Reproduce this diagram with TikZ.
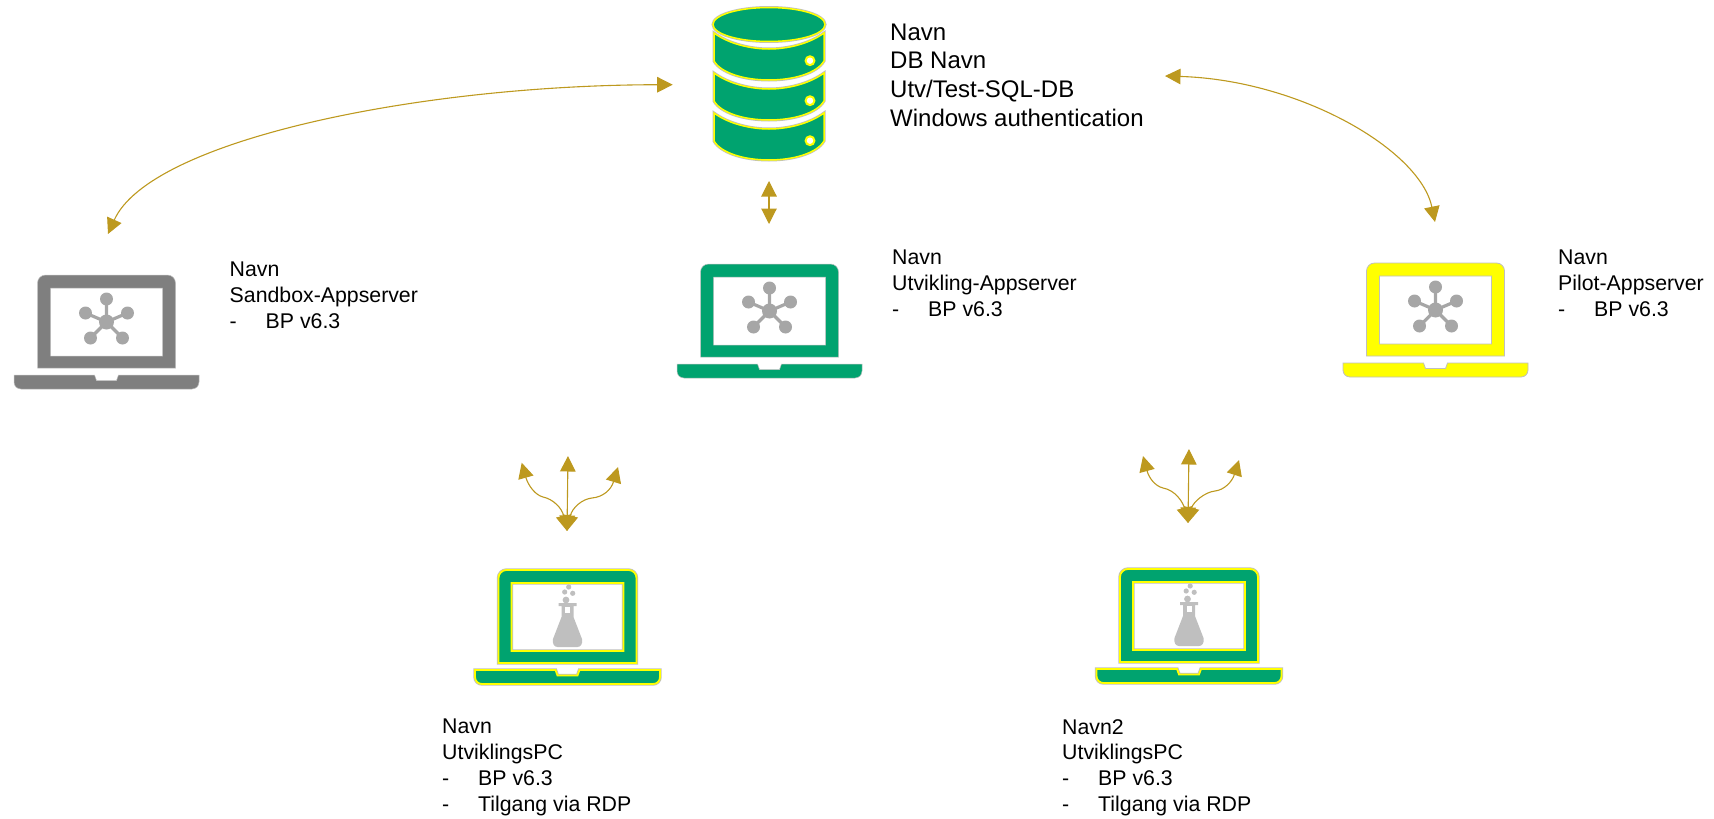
\documentclass[tikz,border=0pt]{standalone}
\usepackage{fontspec}
\setmainfont{Liberation Sans}
\usetikzlibrary{arrows.meta}
\definecolor{gold}{HTML}{BD991F}
\definecolor{pgreen}{HTML}{00A36F}
\definecolor{pgray}{HTML}{7F7F7F}
\definecolor{pyellow}{HTML}{FFFF00}
\definecolor{edgeg}{HTML}{BFBFBF}
\definecolor{icong}{HTML}{A6A6A6}
\definecolor{flaskg}{HTML}{BFBFBF}
\tikzset{
  link/.style={draw=gold,line width=1.1pt,{Triangle[length=15.5pt,width=15.5pt,fill=gold]}-{Triangle[length=15.5pt,width=15.5pt,fill=gold]}},
  lab/.style={anchor=north west,inner sep=0pt,align=left,font=\fontsize{21.3}{25.9}\selectfont},
  dblab/.style={anchor=north west,inner sep=0pt,align=left,font=\fontsize{24}{28.6}\selectfont},
  halo/.style={preaction={draw=edgeg,line width=3pt}},
}
% #1 cx, #2 top, #3 fill, #4 outline, #5 outline width
\newcommand{\laptopbody}[5]{%
  \begin{scope}[shift={(#1,#2)}]
    \path[fill=#3,draw=#4,line width=#5,even odd rule]
      (-69,93) -- (-69,8) .. controls (-69,3.6) and (-65.4,0) .. (-61,0) -- (61,0)
      .. controls (65.4,0) and (69,3.6) .. (69,8) -- (69,93) -- cycle
      (-56,13) -- (56,13) -- (56,81) -- (-56,81) -- cycle;
    \path[fill=#3,draw=#4,line width=#5]
      (-92.5,100) -- (-12,100) -- (-10,105.5) -- (10,105.5) -- (12,100) -- (92.5,100)
      -- (92.5,107) .. controls (92.5,111) and (89.5,114) .. (85.5,114) -- (-85.5,114)
      .. controls (-89.5,114) and (-92.5,111) .. (-92.5,107) -- cycle;
  \end{scope}}
\newcommand{\laptophalo}[2]{%
  \begin{scope}[shift={(#1,#2)}]
    \path[draw=edgeg,line width=3.4pt]
      (-69,93) -- (-69,8) .. controls (-69,3.6) and (-65.4,0) .. (-61,0) -- (61,0)
      .. controls (65.4,0) and (69,3.6) .. (69,8) -- (69,93) -- cycle
      (-56,13) -- (56,13) -- (56,81) -- (-56,81) -- cycle;
    \path[draw=edgeg,line width=3.4pt]
      (-92.5,100) -- (-12,100) -- (-10,105.5) -- (10,105.5) -- (12,100) -- (92.5,100)
      -- (92.5,107) .. controls (92.5,111) and (89.5,114) .. (85.5,114) -- (-85.5,114)
      .. controls (-89.5,114) and (-92.5,111) .. (-92.5,107) -- cycle;
  \end{scope}}
\newcommand{\neticon}[2]{%
  \begin{scope}[shift={(#1,#2)}]
    \draw[icong,line width=3.2pt] (0,47) -- (0,24) (0,47) -- (-21,38) (0,47) -- (21,38) (0,47) -- (-16,63) (0,47) -- (16,63);
    \fill[icong] (0,47) circle[radius=7.5] (0,24) circle[radius=6.5] (-21,38) circle[radius=6.5]
      (21,38) circle[radius=6.5] (-16,63) circle[radius=6.5] (16,63) circle[radius=6.5];
  \end{scope}}
\newcommand{\flaskicon}[2]{%
  \begin{scope}[shift={(#1,#2)}]
    \fill[flaskg] (-1.5,30) circle[radius=3.4] (-2.8,22) circle[radius=2.6] (5.2,23.3) circle[radius=2.6] (1.2,17) circle[radius=2.6];
    \fill[flaskg] (-9,33) -- (9,33) -- (9,36) -- (6,36) -- (6,47) -- (14.5,69)
      .. controls (15.5,74) and (13,77) .. (10,77) -- (-10,77)
      .. controls (-13,77) and (-15.5,74) .. (-14.5,69) -- (-6,47) -- (-6,36) -- (-9,36) -- cycle;
    \fill[white] (-2.5,37) rectangle (2.5,43);
  \end{scope}}
\newcommand{\dbdisk}[1]{%
  \begin{scope}[shift={(0,#1)}]
    \path[halo,fill=pgreen,draw=pyellow,line width=1.5pt]
      (-55,33) .. controls (-40,44) and (-18,49) .. (0,49) .. controls (18,49) and (40,44) .. (55,33)
      -- (55,61) .. controls (48,73) and (25,80) .. (0,80) .. controls (-25,80) and (-48,73) .. (-55,61) -- cycle;
    \fill[pyellow] (41,60.7) circle[radius=5.5];
    \fill[white] (41,60.7) circle[radius=3.2];
  \end{scope}}
\begin{document}
\begin{tikzpicture}[x=1pt,y=-1pt]
\useasboundingbox (0,0) rectangle (1714,819);
% database
\begin{scope}[shift={(769,0)}]
  \path[halo,fill=pgreen,draw=pyellow,line width=1.5pt] (0,24.5) ellipse[x radius=56,y radius=17];
  \dbdisk{0}\dbdisk{40}\dbdisk{80}
\end{scope}
% laptops
\laptopbody{106.5}{275}{pgray}{edgeg}{0.5pt}\neticon{106.5}{275}
\laptopbody{769.5}{264}{pgreen}{edgeg}{0.5pt}\neticon{769.5}{264}
\laptopbody{1435.5}{263}{pyellow}{edgeg}{0.8pt}\neticon{1435.5}{263}
\laptophalo{567.5}{570}\laptopbody{567.5}{570}{pgreen}{pyellow}{1.8pt}\flaskicon{567.5}{570}
\laptophalo{1189}{569}\laptopbody{1189}{569}{pgreen}{pyellow}{1.8pt}\flaskicon{1189}{569}
% labels
\node[dblab] (tdb) at (890,23.5) {Navn\\DB Navn\\Utv/Test-SQL-DB\\Windows authentication};
\node[lab] (tsand) at (229.5,262) {Navn\\Sandbox-Appserver\\\makebox[36pt][l]{-}BP v6.3};
\node[lab] (tutv) at (892,250) {Navn\\Utvikling-Appserver\\\makebox[36pt][l]{-}BP v6.3};
\node[lab] (tpil) at (1558,250) {Navn\\Pilot-Appserver\\\makebox[36pt][l]{-}BP v6.3};
\node[lab] (tpc1) at (442,719) {Navn\\UtviklingsPC\\\makebox[36pt][l]{-}BP v6.3\\\makebox[36pt][l]{-}Tilgang via RDP};
\node[lab] (tpc2) at (1062,719) {Navn2\\UtviklingsPC\\\makebox[36pt][l]{-}BP v6.3\\\makebox[36pt][l]{-}Tilgang via RDP};
% connector end points
\coordinate (a1s) at (108,234);
\coordinate (a1e) at (672.7,84.7);
\coordinate (a2s) at (769,181);
\coordinate (a2e) at (769,224);
\coordinate (a3s) at (1165,76);
\coordinate (a3e) at (1435,222);
\coordinate (g1b) at (567,531);
\coordinate (g1c) at (568,456);
\coordinate (g1l) at (521.7,462.7);
\coordinate (g1r) at (618,467);
\coordinate (g2b) at (1188,523);
\coordinate (g2c) at (1189,449);
\coordinate (g2l) at (1143,456);
\coordinate (g2r) at (1239,460);
% connectors
\draw[link] (a1s) .. controls (150,140) and (420,85) .. (a1e);
\draw[link] (a2s) -- (a2e);
\draw[link] (a3s) .. controls (1300,80) and (1420,150) .. (a3e);
\draw[link] (g1c) -- (g1b);
\draw[link] (g1l) .. controls (528,485) and (535,495) .. (543,497) .. controls (553,499) and (562,508) .. (g1b);
\draw[link] (g1r) .. controls (611,490) and (603,497) .. (592,498) .. controls (582,499) and (572,508) .. (g1b);
\draw[link] (g2c) -- (g2b);
\draw[link] (g2l) .. controls (1149,478) and (1155,486) .. (1163,488) .. controls (1175,490) and (1183,502) .. (g2b);
\draw[link] (g2r) .. controls (1232,482) and (1224,490) .. (1215,491) .. controls (1205,492) and (1193,502) .. (g2b);
\end{tikzpicture}
\end{document}
